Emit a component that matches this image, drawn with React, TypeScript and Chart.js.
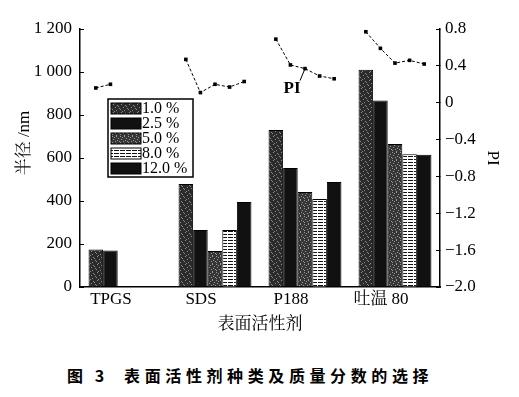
import React, { useEffect, useRef } from "react";
import { Chart, registerables } from "chart.js";
Chart.register(...registerables);

const categories = ["TPGS", "SDS", "P188", "吐温 80"];
const concLabels = ["1.0 %", "2.5 %", "5.0 %", "8.0 %", "12.0 %"];
const radius1 = [175, 479, 730, 1010];
const radius25 = [170, 265, 553, 868];
const radius5 = [null, 167, 442, 665];
const radius8 = [null, 265, 409, 618];
const radius12 = [null, 395, 488, 615];
const piTPGS = [0.16, 0.2];
const piSDS = [0.47, 0.11, 0.2, 0.17, 0.23];
const piP188 = [0.69, 0.41, 0.37, 0.29, 0.26];
const piTween = [0.77, 0.59, 0.43, 0.46, 0.42];
const yTitle = "半径 /nm";

const SERIF = "'Liberation Serif', 'Noto Serif CJK SC', 'Noto Sans CJK SC', serif";
const CAT_PCT = 0.81;

function makePattern(w: number, h: number, draw: (c: CanvasRenderingContext2D) => void) {
  const cv = document.createElement("canvas");
  cv.width = w;
  cv.height = h;
  const c = cv.getContext("2d")!;
  draw(c);
  return c.createPattern(cv, "repeat")!;
}

function dots(c: CanvasRenderingContext2D, base: string, light: string, size: number, pts: number[][]) {
  c.fillStyle = base;
  c.fillRect(0, 0, size, size);
  c.fillStyle = light;
  pts.forEach(([x, y]) => c.fillRect(x, y, 1, 1));
}

export default function App() {
  const ref = useRef<HTMLCanvasElement>(null);
  useEffect(() => {
    const speck1 = makePattern(8, 8, (c) =>
      dots(c, "#2b2b2b", "#8c8c8c", 8, [[1, 0], [5, 1], [6, 2], [3, 3], [7, 4], [0, 5], [4, 6], [2, 7]])
    );
    const speck5 = makePattern(8, 8, (c) =>
      dots(c, "#353535", "#9a9a9a", 8, [[0, 0], [4, 0], [2, 1], [6, 2], [1, 3], [5, 4], [3, 5], [7, 5], [0, 6], [4, 7]])
    );
    const stripes = makePattern(6, 3, (c) => {
      c.fillStyle = "#fff";
      c.fillRect(0, 0, 6, 3);
      c.fillStyle = "#111";
      c.fillRect(0, 0, 5, 1);
    });
    const fills = [speck1, "#111", speck5, stripes, "#111"];
    const radii = [radius1, radius25, radius5, radius8, radius12];
    const pis = [piTPGS, piSDS, piP188, piTween];

    const barSets = radii.map((d, i) => ({
      type: "bar" as const,
      label: concLabels[i],
      data: d,
      backgroundColor: fills[i],
      borderColor: "#000",
      borderWidth: 1,
      categoryPercentage: CAT_PCT,
      barPercentage: 1,
      xAxisID: "x",
      yAxisID: "y",
    }));

    const overlayPlugin = {
      id: "overlay",
      afterDatasetsDraw(chart: any) {
        const ctx = chart.ctx;
        const a = chart.chartArea;
        const xl = chart.scales.xl;
        const y1 = chart.scales.y1;
        ctx.save();
        // PI lines on the right axis
        let annot: number[] | null = null;
        pis.forEach((arr, g) => {
          const pts = arr.map((v, k) => [xl.getPixelForValue(g + (k - 2) * (CAT_PCT / 5)), y1.getPixelForValue(v)]);
          ctx.strokeStyle = "#000";
          ctx.lineWidth = 1;
          ctx.setLineDash([3, 2]);
          ctx.beginPath();
          pts.forEach(([x, y], i) => (i ? ctx.lineTo(x, y) : ctx.moveTo(x, y)));
          ctx.stroke();
          ctx.setLineDash([]);
          ctx.fillStyle = "#000";
          pts.forEach(([x, y]) => ctx.fillRect(x - 1.8, y - 1.8, 3.6, 3.6));
          if (g === 2) annot = pts[2];
        });
        if (annot) {
          const [px, py] = annot as number[];
          ctx.beginPath();
          ctx.moveTo(px, py);
          ctx.lineTo(px - 5, py + 12);
          ctx.stroke();
          ctx.font = "bold 17px " + SERIF;
          ctx.textAlign = "center";
          ctx.textBaseline = "middle";
          ctx.fillText("PI", px - 13, py + 20);
        }
        // legend box
        const x0 = a.left + 28;
        const y0 = a.top + 70;
        const w = 85;
        const h = 78;
        ctx.fillStyle = "#fff";
        ctx.fillRect(x0, y0, w, h);
        ctx.strokeStyle = "#000";
        ctx.lineWidth = 1.5;
        ctx.strokeRect(x0, y0, w, h);
        for (let i = 0; i < 5; i++) {
          const ds = chart.data.datasets[i];
          const sy = y0 + 4 + i * 15;
          ctx.fillStyle = ds.backgroundColor;
          ctx.fillRect(x0 + 3, sy, 30, 11);
          ctx.lineWidth = 1;
          ctx.strokeRect(x0 + 3, sy, 30, 11);
          ctx.fillStyle = "#000";
          ctx.font = "16px " + SERIF;
          ctx.textBaseline = "middle";
          ctx.textAlign = "left";
          ctx.fillText(ds.label, x0 + 34, sy + 6);
        }
        // left axis title
        ctx.translate(25, (a.top + a.bottom) / 2 - 15);
        ctx.rotate(-Math.PI / 2);
        ctx.font = "17px " + SERIF;
        ctx.textAlign = "center";
        ctx.textBaseline = "middle";
        ctx.fillText(yTitle, 0, 0);
        ctx.restore();
      },
    };

    const chart = new Chart(ref.current!, {
      type: "bar",
      data: { labels: categories, datasets: barSets as any },
      plugins: [overlayPlugin],
      options: {
        animation: false,
        responsive: false,
        layout: { padding: { top: 29, left: 0, right: 0, bottom: 0 } },
        plugins: { legend: { display: false }, tooltip: { enabled: false } },
        scales: {
          x: {
            type: "category",
            offset: true,
            grid: { drawOnChartArea: false, drawTicks: false },
            border: { display: true, color: "#000", width: 1.5 },
            ticks: { font: { size: 17, family: SERIF }, color: "#000", padding: 2, labelOffset: -14 },
            title: { display: true, text: "表面活性剂", font: { size: 17, family: SERIF }, color: "#000", padding: { top: 0, bottom: 15 } },
            afterFit: (s: any) => { s.height = 63; },
          },
          xl: { type: "linear", display: false, offset: false, min: -0.5, max: 3.5 },
          y: {
            position: "left",
            min: 0,
            max: 1200,
            grid: { drawOnChartArea: false, drawTicks: true, tickLength: -4, color: "#000", lineWidth: 1 },
            border: { display: true, color: "#000", width: 1.5 },
            ticks: {
              stepSize: 200,
              font: { size: 17, family: SERIF },
              color: "#000",
              padding: 12,
              callback: (v: any) => (v >= 1000 ? Math.floor(v / 1000) + " " + String(v % 1000).padStart(3, "0") : String(v)),
            },
            afterFit: (s: any) => { s.width = 80; },
          },
          y1: {
            position: "right",
            min: -2,
            max: 0.8,
            grid: { drawOnChartArea: false, drawTicks: true, tickLength: -4, color: "#000", lineWidth: 1 },
            border: { display: true, color: "#000", width: 1.5 },
            ticks: {
              stepSize: 0.4,
              font: { size: 17, family: SERIF },
              color: "#000",
              padding: 9,
              callback: (v: any) => {
                if (Math.abs(v) < 1e-9) return "0";
                return v < 0 ? "\u2212" + Math.abs(v).toFixed(1) : v.toFixed(1);
              },
            },
            title: { display: true, text: "PI", font: { size: 17, family: SERIF }, color: "#000", padding: { top: 16, bottom: 0 } },
            afterFit: (s: any) => { s.width = 79; },
          },
        },
      } as any,
    });
    return () => chart.destroy();
  }, []);

  return (
    <div style={{ position: "absolute", left: 0, top: 0, width: 519, height: 397, background: "#fff" }}>
      <canvas ref={ref} width={519} height={350} style={{ display: "block" }} />
      <div
        style={{
          position: "absolute",
          left: 67,
          top: 363,
          fontFamily: "'Noto Sans CJK SC', sans-serif",
          fontWeight: 700,
          fontSize: 16,
          lineHeight: "24px",
          color: "#000",
          whiteSpace: "nowrap",
        }}
      >
        <span style={{ letterSpacing: 4 }}>图 3</span>
        <span style={{ display: "inline-block", width: 16 }} />
        <span style={{ letterSpacing: 4.6 }}>表面活性剂种类及质量分数的选择</span>
      </div>
    </div>
  );
}
